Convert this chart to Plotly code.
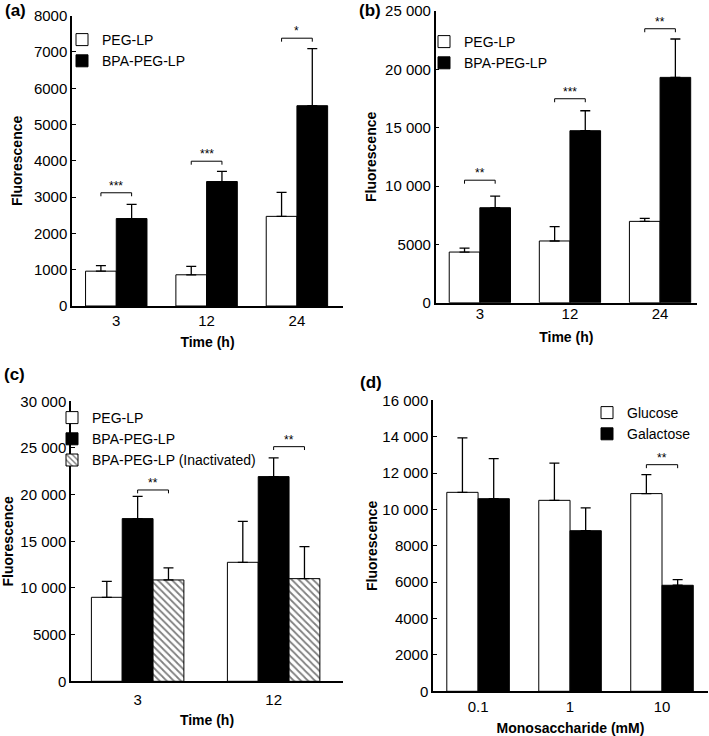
import plotly.graph_objects as go

W, H = 709, 736
FONT = "Liberation Sans, Arial, sans-serif"

# ---------------- data ----------------
# (a)
a_cats = ["3", "12", "24"]
a_peg = [960, 860, 2470]
a_peg_err = [150, 230, 660]
a_bpa = [2410, 3430, 5520]
a_bpa_err = [390, 280, 1570]
a_sig = ["***", "***", "*"]
a_sig_y = [3120, 3990, 7380]
a_yticks = [0, 1000, 2000, 3000, 4000, 5000, 6000, 7000, 8000]
a_yticklabels = ["0", "1000", "2000", "3000", "4000", "5000", "6000", "7000", "8000"]

# (b)
b_cats = ["3", "12", "24"]
b_peg = [4340, 5290, 6970]
b_peg_err = [340, 1230, 260]
b_bpa = [8140, 14740, 19310]
b_bpa_err = [1000, 1710, 3290]
b_sig = ["**", "***", "**"]
b_sig_y = [10500, 17480, 23480]
b_yticks = [0, 5000, 10000, 15000, 20000, 25000]
b_yticklabels = ["0", "5000", "10 000", "15 000", "20 000", "25 000"]

# (c)
c_cats = ["3", "12"]
c_peg = [9000, 12750]
c_peg_err = [1710, 4390]
c_bpa = [17430, 21930]
c_bpa_err = [2390, 2000]
c_ina = [10860, 11000]
c_ina_err = [1290, 3430]
c_sig = ["**", "**"]
c_sig_y = [20500, 25140]
c_yticks = [0, 5000, 10000, 15000, 20000, 25000, 30000]
c_yticklabels = ["0", "5000", "10 000", "15 000", "20 000", "25 000", "30 000"]

# (d)
d_cats = ["0.1", "1", "10"]
d_glc = [10940, 10500, 10870]
d_glc_err = [2990, 2050, 1040]
d_gal = [10590, 8830, 5830]
d_gal_err = [2200, 1250, 310]
d_sig = ["", "", "**"]
d_sig_y = [None, None, 12460]
d_yticks = [0, 2000, 4000, 6000, 8000, 10000, 12000, 14000, 16000]
d_yticklabels = ["0", "2000", "4000", "6000", "8000", "10 000", "12 000", "14 000", "16 000"]

BARGAP = 0.32


def px_dom_x(a, b):
    return [a / W, b / W]


def px_dom_y(top, bottom):
    return [1 - bottom / H, 1 - top / H]


fig = go.Figure()


def err(arr):
    return dict(type="data", array=arr, arrayminus=[0] * len(arr), symmetric=False,
                color="black", thickness=1.3, width=5)


def add_bar(xa, ya, vals, errs, name, fill, legend, pattern=None):
    marker = dict(color=fill, line=dict(color="black", width=1))
    if pattern:
        marker["pattern"] = pattern
    fig.add_trace(go.Bar(
        x=list(range(len(vals))), y=vals, error_y=err(errs), name=name,
        marker=marker, xaxis=xa, yaxis=ya, legend=legend, showlegend=True,
    ))


def add_sig(xa, ya, sigs, ys, i0, i1, ntr, yrange):
    w = (1 - BARGAP) / ntr
    d = yrange * 0.012
    for k, (s, yv) in enumerate(zip(sigs, ys)):
        if not s:
            continue
        x0 = k + (i0 - (ntr - 1) / 2) * w
        x1 = k + (i1 - (ntr - 1) / 2) * w
        fig.add_shape(type="path",
                      path=f"M{x0},{yv - d} L{x0},{yv} L{x1},{yv} L{x1},{yv - d}",
                      xref=xa, yref=ya, line=dict(color="black", width=1))
        fig.add_annotation(x=(x0 + x1) / 2, y=yv, xref=xa, yref=ya, text=s,
                           showarrow=False, yanchor="bottom", yshift=-2,
                           font=dict(size=12, family=FONT, color="black"))


# panel a
add_bar("x", "y", a_peg, a_peg_err, "PEG-LP", "white", "legend")
add_bar("x", "y", a_bpa, a_bpa_err, "BPA-PEG-LP", "black", "legend")
add_sig("x", "y", a_sig, a_sig_y, 0, 1, 2, 8000)
# panel b
add_bar("x2", "y2", b_peg, b_peg_err, "PEG-LP", "white", "legend2")
add_bar("x2", "y2", b_bpa, b_bpa_err, "BPA-PEG-LP", "black", "legend2")
add_sig("x2", "y2", b_sig, b_sig_y, 0, 1, 2, 25000)
# panel c
add_bar("x3", "y3", c_peg, c_peg_err, "PEG-LP", "white", "legend3")
add_bar("x3", "y3", c_bpa, c_bpa_err, "BPA-PEG-LP", "black", "legend3")
add_bar("x3", "y3", c_ina, c_ina_err, "BPA-PEG-LP (Inactivated)", "white", "legend3",
        pattern=dict(shape="\\", size=5, solidity=0.35, fgcolor="black", bgcolor="white"))
add_sig("x3", "y3", c_sig, c_sig_y, 1, 2, 3, 30000)
# panel d
add_bar("x4", "y4", d_glc, d_glc_err, "Glucose", "white", "legend4")
add_bar("x4", "y4", d_gal, d_gal_err, "Galactose", "black", "legend4")
add_sig("x4", "y4", d_sig, d_sig_y, 0, 1, 2, 16000)

tickfont = dict(size=15, family=FONT, color="black")
titlefont = dict(size=14, family=FONT, color="black", weight="bold")


def xaxis(dom, rng, cats, anchor, title, lab_off, tstand):
    return dict(domain=dom, range=rng, anchor=anchor, tickmode="array",
                tickvals=list(range(len(cats))), ticktext=cats, ticks="", ticklen=0,
                ticklabelstandoff=lab_off,
                showline=True, linecolor="black", linewidth=1.5, showgrid=False,
                zeroline=False, tickfont=tickfont, automargin=False,
                title=dict(text=title, font=titlefont, standoff=tstand))


def yaxis(dom, rng, tv, tt, anchor, tstand):
    return dict(domain=dom, range=rng, anchor=anchor, tickmode="array",
                tickvals=tv, ticktext=tt, ticks="inside", ticklen=4, tickcolor="black",
                showline=True, linecolor="black", linewidth=1.5, showgrid=False,
                zeroline=False, tickfont=tickfont, automargin=False,
                title=dict(text="Fluorescence", font=titlefont, standoff=tstand))


legfont = dict(size=14, family=FONT, color="black")


def legend(x, y):
    return dict(x=x / W, y=1 - y / H, xanchor="left", yanchor="top", font=legfont,
                bgcolor="rgba(0,0,0,0)", itemwidth=30, tracegroupgap=0,
                traceorder="normal")


fig.update_layout(
    width=W, height=H, margin=dict(l=0, r=0, t=0, b=0, autoexpand=False),
    paper_bgcolor="white", plot_bgcolor="white",
    barmode="group", bargap=BARGAP, bargroupgap=0,
    font=dict(family=FONT, color="black"),
    xaxis=xaxis(px_dom_x(72, 343), [-0.49, 2.51], a_cats, "y", "Time (h)", 0, 9),
    yaxis=yaxis(px_dom_y(15.7, 306), [0, 8000], a_yticks, a_yticklabels, "x", 8),
    xaxis2=xaxis(px_dom_x(435.7, 697), [-0.49, 2.41], b_cats, "y2", "Time (h)", -3, 11),
    yaxis2=yaxis(px_dom_y(11, 302.7), [0, 25000], b_yticks, b_yticklabels, "x2", 5),
    xaxis3=xaxis(px_dom_x(71, 343), [-0.49, 1.51], c_cats, "y3", "Time (h)", 4, 8),
    yaxis3=yaxis(px_dom_y(401.3, 681.3), [0, 30000], c_yticks, c_yticklabels, "x3", 12),
    xaxis4=xaxis(px_dom_x(433, 708), [-0.49, 2.5], d_cats, "y4", "Monosaccharide (mM)", 1, 12),
    yaxis4=yaxis(px_dom_y(400.3, 691.3), [0, 16000], d_yticks, d_yticklabels, "x4", 1),
    legend=legend(62, 24),
    legend2=legend(424, 26),
    legend3=legend(52, 402),
    legend4=legend(587, 397),
)

for txt, x, y in [("(a)", 3, 10), ("(b)", 357, 10), ("(c)", 2, 374), ("(d)", 358, 383)]:
    fig.add_annotation(text=txt, x=x / W, y=1 - y / H, xref="paper", yref="paper",
                       xanchor="left", yanchor="middle", showarrow=False,
                       font=dict(size=17, family=FONT, color="black", weight="bold"))

fig.write_html("out.html", config={"displayModeBar": False},
               post_script="document.body.style.margin='0';document.body.style.overflow='hidden';")
